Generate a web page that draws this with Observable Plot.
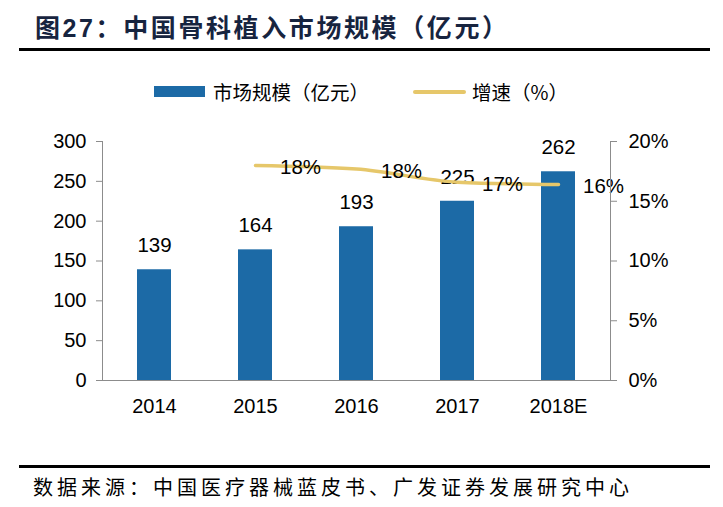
<!DOCTYPE html>
<html><head><meta charset="utf-8">
<script src="https://cdn.jsdelivr.net/npm/d3@7"></script>
<script src="https://cdn.jsdelivr.net/npm/@observablehq/plot@0.6"></script>
<style>
body{margin:0;width:723px;height:507px;background:#fff;position:relative;overflow:hidden;font-family:"Liberation Sans","Noto Sans CJK SC",sans-serif;}
#title{position:absolute;left:35px;top:11px;font-family:"Liberation Sans","Noto Sans CJK SC",sans-serif;font-weight:bold;font-size:25px;line-height:34px;color:#17243f;letter-spacing:2.6px;white-space:nowrap;}
.rule{position:absolute;left:19px;width:691px;height:3px;background:#000;}
#legend{position:absolute;top:75px;left:154px;font-family:"Noto Sans CJK SC",sans-serif;font-size:19.5px;line-height:28px;color:#000;white-space:nowrap;}
#legend span{display:inline-block;vertical-align:middle;}
#chart{position:absolute;left:0;top:120px;}
#source{position:absolute;left:33px;top:473px;font-family:"Noto Sans CJK SC",serif;font-size:20px;line-height:28px;letter-spacing:4px;color:#000;white-space:nowrap;}
</style></head>
<body>
<div id="title">图27：中国骨科植入市场规模（亿元）</div>
<div class="rule" style="top:48px"></div>
<div id="legend">
<span style="width:51px;height:11px;background:#1c6aa6"></span><span style="margin-left:8px">市场规模（亿元）</span><span style="width:53px;height:4px;background:#e6c76a;border-radius:2px;margin-left:44px"></span><span style="margin-left:6px">增速（%）</span>
</div>
<div id="chart"></div>
<div class="rule" style="top:465px"></div>
<div id="source">数据来源：中国医疗器械蓝皮书、广发证券发展研究中心</div>
<script>
const years = ["2014","2015","2016","2017","2018E"];
const marketSize = [139,164,193,225,262];
const growthYears = ["2015","2016","2017","2018E"];
const growth = [18.0,17.7,16.6,16.4];
const growthLabels = ["18%","18%","17%","16%"];
const leftTicks = [0,50,100,150,200,250,300];
const rightTicks = [0,5,10,15,20];

const bars = years.map((y,i)=>({year:y,value:marketSize[i]}));
const line = growthYears.map((y,i)=>({year:y,g:growth[i],label:growthLabels[i]}));
const k = 15; // 20% maps to 300

const chart = Plot.plot({
  width:723, height:300,
  marginLeft:102, marginRight:113, marginTop:21, marginBottom:40,
  style:{fontFamily:"Liberation Sans, Arial, sans-serif", fontSize:"20px", color:"#000", background:"transparent", overflow:"visible"},
  x:{domain:years, paddingInner:0.665, paddingOuter:0.33, label:null},
  y:{domain:[0,300], label:null},
  marks:[
    Plot.barY(bars,{x:"year",y:"value",fill:"#1c6aa6"}),
    Plot.text(bars,{x:"year",y:"value",text:d=>String(d.value),dy:-24,fontSize:20.5,fill:"#000"}),
    Plot.line(line,{x:"year",y:d=>d.g*k,stroke:"#e6c76a",strokeWidth:3.5,curve:"monotone-x"}),
    Plot.text(line,{x:"year",y:d=>d.g*k,text:"label",dx:45,dy:2,fontSize:20.5,fill:"#000"}),
    Plot.frame({anchor:"left",stroke:"#8c8c8c"}),
    Plot.frame({anchor:"right",stroke:"#8c8c8c"}),
    Plot.ruleY([0],{stroke:"#8c8c8c"}),
    Plot.axisY(leftTicks,{anchor:"left",tickSize:6,tickPadding:10,stroke:"#8c8c8c",fill:"#000",fontSize:20,label:null}),
    Plot.axisY(rightTicks,{anchor:"right",y:d=>d*k,tickFormat:d=>d+"%",tickSize:6,tickPadding:12,stroke:"#8c8c8c",fill:"#000",fontSize:20,label:null}),
    Plot.axisX({tickSize:0,tickPadding:18,fontSize:20,fill:"#000",label:null})
  ]
});
document.getElementById("chart").appendChild(chart);
</script>
</body></html>
